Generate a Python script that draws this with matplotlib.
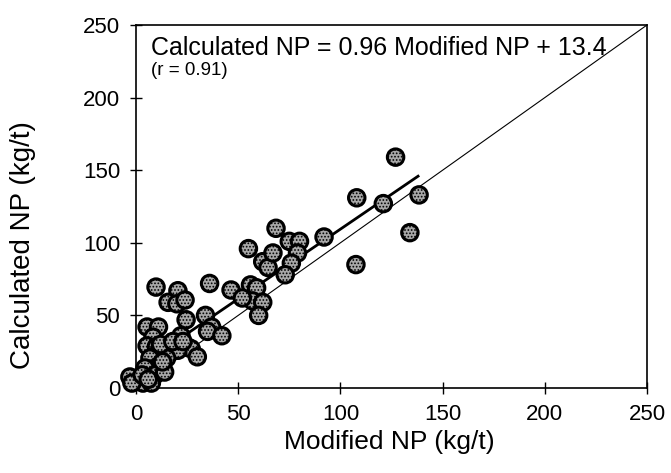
import matplotlib
matplotlib.use("Agg")
import matplotlib.pyplot as plt
import numpy as np

plt.rcParams['font.family'] = ['Liberation Sans', 'DejaVu Sans']
plt.rcParams['hatch.linewidth'] = 0.8

# Modified NP (x) and Calculated NP (y), kg/t
modified_np = [127, 138.5, 134, 121, 108, 107.6, 92, 68.5, 55, 75, 80, 79, 76, 62, 64.6,
               73, 67, 56, 59, 57, 62, 60, 36, 46.5, 52, 34, 37, 35, 42,
               9.8, 20.5, 15.7, 20, 24, 24.5, 5.4, 11, 8.3, 5.4, 10, 22, 20, 25.4, 27,
               20.5, 30, 10.8, 15, 6.8, 10.8, 4.4, 9.3, 1, -3, 3.4, 7.5, -2, 12, 18, 14,
               3, 6, 13, 23]
calculated_np = [159, 133, 107, 127, 131, 85, 104, 110, 96, 101, 101, 93, 86, 87, 83,
                 78, 93, 71, 69, 60, 59, 50, 72, 67.5, 62, 50, 42, 39, 36,
                 69.5, 67, 59, 58, 60.6, 47, 42, 42, 35, 29, 28.5, 36, 29, 28, 27,
                 26, 21.5, 24, 20.6, 20.6, 15, 13.8, 9, 5.5, 7.6, 3.4, 3.4, 3.4, 30, 32, 11,
                 9, 6, 18, 32]

fit_slope = 0.96
fit_intercept = 13.4
fit_x_range = [0, 138]

fig = plt.figure(figsize=(6.71, 4.73), dpi=100)
ax = fig.add_axes([0.2027, 0.1797, 0.9642 - 0.2027, 0.9471 - 0.1797])

ax.plot([0, 250], [0, 250], color='black', linewidth=0.8, zorder=2)
fx = np.array(fit_x_range, dtype=float)
ax.plot(fx, fit_slope * fx + fit_intercept, color='black', linewidth=2.0, zorder=2)

ax.scatter(modified_np, calculated_np, s=140, facecolor='#a8a8a8', edgecolor='black',
           linewidths=2.2, hatch='.....', zorder=3, clip_on=False)

ax.set_xlim(0, 250)
ax.set_ylim(0, 250)
ax.set_xticks([0, 50, 100, 150, 200, 250])
ax.set_yticks([0, 50, 100, 150, 200, 250])
ax.tick_params(direction='inout', length=9, width=1.0, labelsize=16, pad=7)
for s in ax.spines.values():
    s.set_linewidth(1.2)

ax.set_xlabel('Modified NP (kg/t)', fontsize=19)
ax.xaxis.set_label_coords(0.495, -0.117)
ax.set_ylabel('Calculated NP (kg/t)', fontsize=20)
ax.yaxis.set_label_coords(-0.195, 0.395)

ax.text(0.03, 0.937, 'Calculated NP = 0.96 Modified NP + 13.4', transform=ax.transAxes,
        fontsize=18, va='center', ha='left')
ax.text(0.03, 0.876, '(r = 0.91)', transform=ax.transAxes, fontsize=13.5,
        va='center', ha='left')

fig.savefig('out.png', dpi=100)
